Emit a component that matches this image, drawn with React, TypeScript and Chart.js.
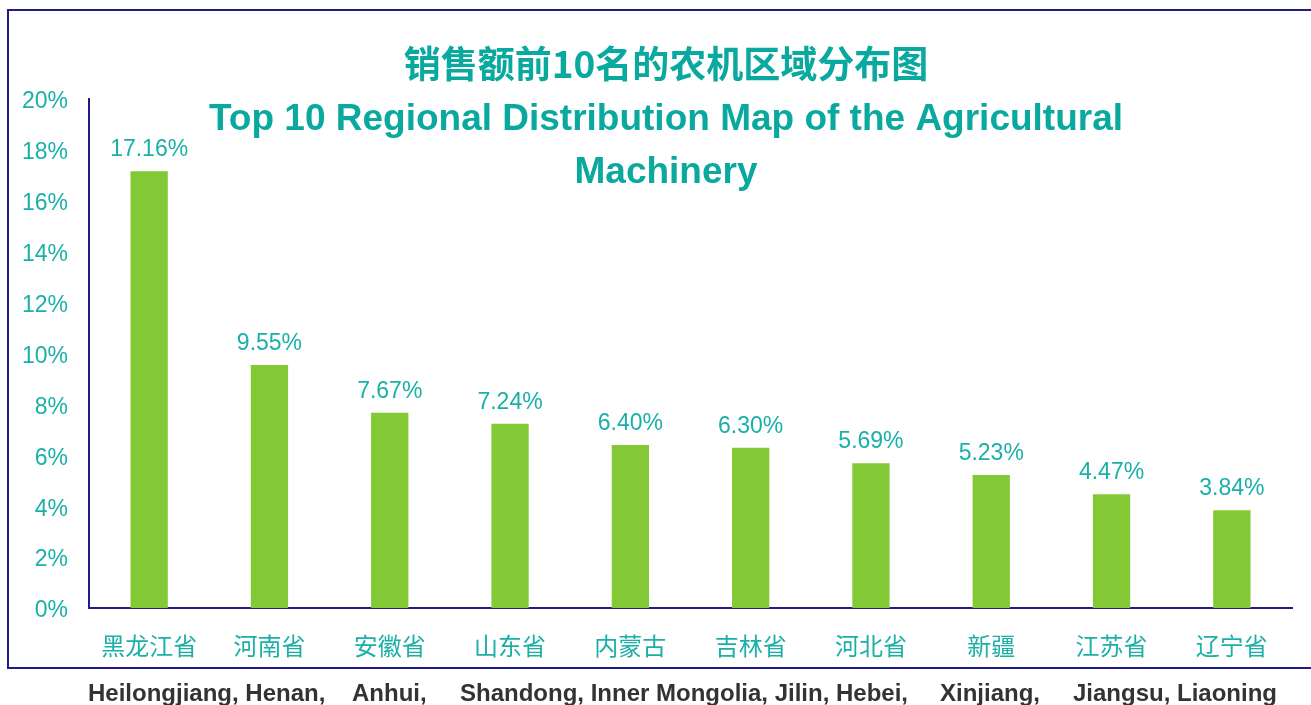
import React, { useEffect, useRef } from "react";
import { Chart, registerables } from "chart.js";

Chart.register(...registerables);

const categories = ["黑龙江省", "河南省", "安徽省", "山东省", "内蒙古", "吉林省", "河北省", "新疆", "江苏省", "辽宁省"];
const shares = [17.16, 9.55, 7.67, 7.24, 6.4, 6.3, 5.69, 5.23, 4.47, 3.84];
const titleZh = "销售额前10名的农机区域分布图";
const titleEnLines = ["Top 10 Regional Distribution Map of the Agricultural", "Machinery"];
const footerSegments = ["Heilongjiang, Henan,", "Anhui,", "Shandong, Inner Mongolia, Jilin, Hebei,", "Xinjiang,", "Jiangsu, Liaoning"];
const yMin = 0;
const yMax = 20;
const yStep = 2;

const FOOTER_X = [88, 352, 460, 940, 1073];
const TEAL = "#0AA9A0";
const TICK_TEAL = "#1AB0A8";
const NAVY = "#1F1B87";
const BAR = "#82C935";
const FONT = "'Liberation Sans', Arial, sans-serif";
const CJK = "'Noto Sans CJK SC', 'Liberation Sans', sans-serif";

const decorPlugin = {
  id: "decor",
  afterDraw(chart: any) {
    const ctx = chart.ctx;
    ctx.save();
    // frame
    ctx.strokeStyle = NAVY;
    ctx.lineWidth = 2;
    ctx.beginPath();
    ctx.moveTo(1320, 10);
    ctx.lineTo(8, 10);
    ctx.lineTo(8, 668);
    ctx.lineTo(1320, 668);
    ctx.stroke();

    // value labels
    const meta = chart.getDatasetMeta(0);
    ctx.fillStyle = TICK_TEAL;
    ctx.font = `23px ${FONT}`;
    ctx.textAlign = "center";
    ctx.textBaseline = "alphabetic";
    meta.data.forEach((el: any, i: number) => {
      ctx.fillText(shares[i].toFixed(2) + "%", el.x, el.y - 15);
    });

    // titles
    ctx.fillStyle = TEAL;
    ctx.textBaseline = "middle";
    ctx.font = `bold 37px ${CJK}`;
    ctx.fillText(titleZh, 666, 64);
    ctx.font = `bold 37px ${FONT}`;
    titleEnLines.forEach((t, i) => ctx.fillText(t, 666, 120 + i * 53));

    // footer
    ctx.fillStyle = "#333333";
    ctx.textAlign = "left";
    ctx.textBaseline = "alphabetic";
    ctx.font = `bold 24px ${FONT}`;
    footerSegments.forEach((t, i) => ctx.fillText(t, FOOTER_X[i], 701));
    ctx.restore();
  },
};

export default function App() {
  const ref = useRef<HTMLCanvasElement | null>(null);
  useEffect(() => {
    if (!ref.current) return;
    const chart = new Chart(ref.current, {
      type: "bar",
      data: {
        labels: categories,
        datasets: [
          {
            data: shares,
            backgroundColor: BAR,
            barPercentage: 0.31,
            categoryPercentage: 1,
          },
        ],
      },
      options: {
        animation: false,
        responsive: false,
        maintainAspectRatio: false,
        layout: { padding: { top: 99, right: 19, bottom: 0, left: 0 } },
        plugins: { legend: { display: false }, tooltip: { enabled: false }, title: { display: false } },
        scales: {
          x: {
            grid: { display: false, drawTicks: false },
            border: { display: true, color: NAVY, width: 2 },
            ticks: { color: TICK_TEAL, font: { family: CJK, size: 24 }, padding: 23, maxRotation: 0 },
            afterFit: (s: any) => {
              s.height = 97;
            },
          },
          y: {
            min: yMin,
            max: yMax,
            grid: { display: false, drawTicks: false },
            border: { display: true, color: NAVY, width: 2 },
            ticks: {
              stepSize: yStep,
              color: TICK_TEAL,
              font: { family: FONT, size: 23 },
              padding: 21,
              labelOffset: 3,
              callback: (v: any) => v + "%",
            },
            afterFit: (s: any) => {
              s.width = 89;
            },
          },
        },
      },
      plugins: [decorPlugin],
    });
    return () => chart.destroy();
  }, []);
  return (
    <div style={{ position: "fixed", left: 0, top: 0, width: 1311, height: 705, background: "#fff" }}>
      <canvas ref={ref} width={1311} height={705} style={{ display: "block", width: 1311, height: 705 }} />
    </div>
  );
}
